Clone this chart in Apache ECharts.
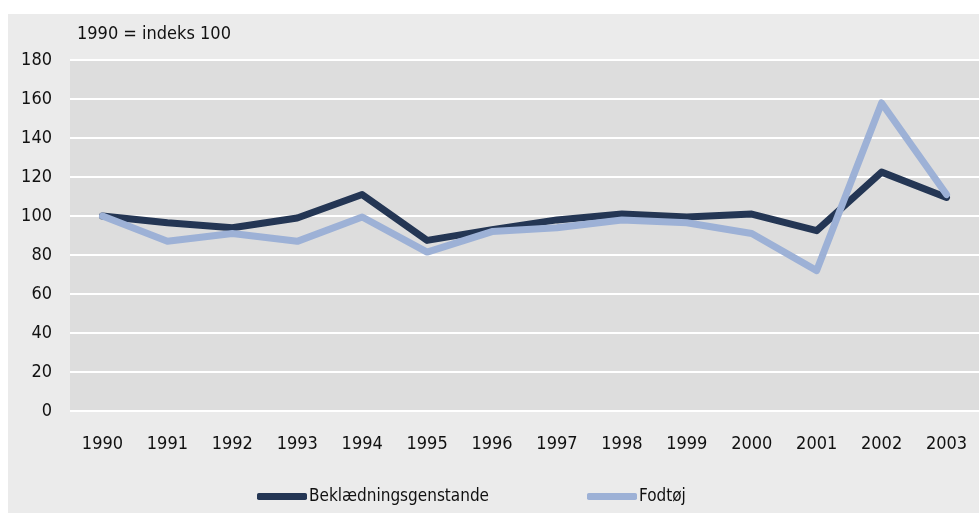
<!DOCTYPE html>
<html>
<head>
<meta charset="utf-8">
<script src="https://cdn.jsdelivr.net/npm/echarts@6/dist/echarts.min.js"></script>
<style>
  html, body { margin: 0; padding: 0; background: #fff; }
  #chart { width: 979px; height: 513px; }
</style>
</head>
<body>
<div id="chart"></div>
<script>
// år på x-aksen
const years = ["1990", "1991", "1992", "1993", "1994", "1995", "1996",
  "1997", "1998", "1999", "2000", "2001", "2002", "2003"];
// indeks, 1990 = 100
const beklaedning = [100, 96.5, 94, 99, 111, 87.5, 93, 98, 101, 99.5, 101, 92.5, 122.5, 109.5];
const fodtoj = [100, 87, 91, 87, 99.5, 81.5, 92, 94, 98, 96.5, 91, 72, 158, 111];
const yTicks = { min: 0, max: 180, interval: 20 };

const font = '"DejaVu Sans Condensed", "Liberation Sans Narrow", sans-serif';

const legendText = { fontFamily: font, fontSize: 17, color: "#111", padding: [0, 0, 0, -3] };

const chart = echarts.init(document.getElementById("chart"));

const option = {
  animation: false,
  backgroundColor: "#ffffff",
  textStyle: { fontFamily: font },
  graphic: [
    {
      type: "rect",
      left: 8,
      top: 14,
      z: -10,
      shape: { width: 971, height: 499 },
      style: { fill: "#ebebeb" },
    },
  ],
  title: {
    text: "1990 = indeks 100",
    left: 72,
    top: 20,
    textStyle: { fontFamily: font, fontSize: 18, fontWeight: "normal", color: "#111" },
  },
  grid: {
    left: 70,
    right: -1,
    top: 60,
    bottom: 102,
    show: true,
    backgroundColor: "#dddddd",
    borderWidth: 0,
  },
  legend: [
    {
      bottom: 3,
      left: 252,
      itemWidth: 50,
      itemHeight: 7,
      icon: "roundRect",
      textStyle: legendText,
      data: ["Beklædningsgenstande"],
    },
    {
      bottom: 3,
      left: 582,
      itemWidth: 50,
      itemHeight: 7,
      icon: "roundRect",
      textStyle: legendText,
      data: ["Fodtøj"],
    },
  ],
  xAxis: {
    type: "category",
    data: years,
    boundaryGap: true,
    axisLine: { show: false },
    axisTick: { show: false },
    axisLabel: { fontFamily: font, fontSize: 18, color: "#111", margin: 24 },
  },
  yAxis: {
    type: "value",
    min: yTicks.min,
    max: yTicks.max,
    interval: yTicks.interval,
    axisLine: { show: false },
    axisTick: { show: false },
    axisLabel: { fontFamily: font, fontSize: 18, color: "#111", margin: 18 },
    splitLine: { lineStyle: { color: "#ffffff", width: 2 } },
  },
  series: [
    {
      name: "Beklædningsgenstande",
      type: "line",
      data: beklaedning,
      symbol: "none",
      itemStyle: { color: "#243654" },
      lineStyle: { color: "#243654", width: 7, cap: "round", join: "round" },
    },
    {
      name: "Fodtøj",
      type: "line",
      data: fodtoj,
      symbol: "none",
      itemStyle: { color: "#9db1d6" },
      lineStyle: { color: "#9db1d6", width: 7, cap: "round", join: "round" },
    },
  ],
};

chart.setOption(option);
</script>
</body>
</html>
